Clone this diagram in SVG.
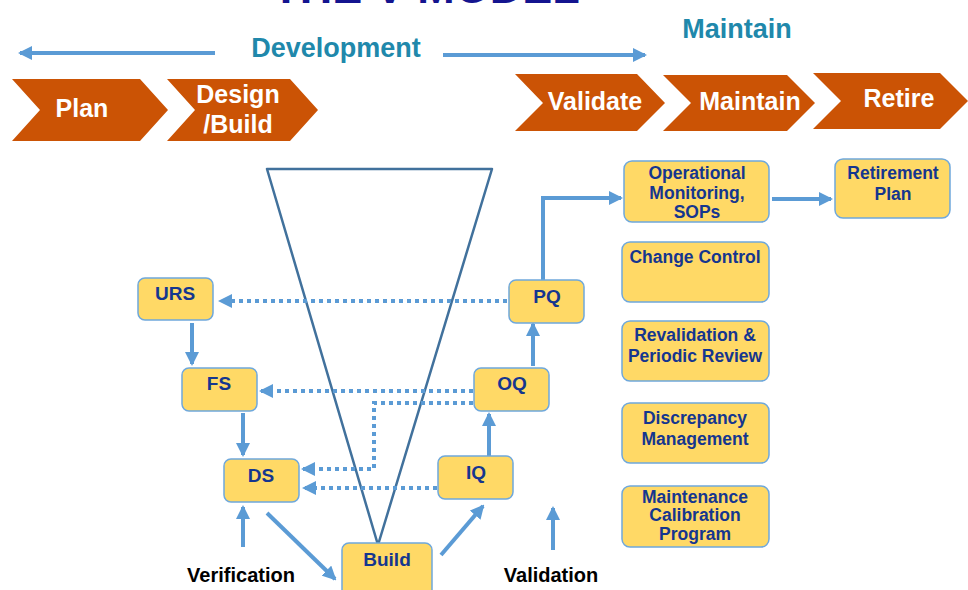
<svg xmlns="http://www.w3.org/2000/svg" width="968" height="590" viewBox="0 0 968 590">
<style>
.chev{fill:#cb5305}
.ct{font-family:"Liberation Sans",Arial,sans-serif;font-weight:bold;font-size:25px;fill:#ffffff;text-anchor:middle}
.hdr{font-family:"Liberation Sans",Arial,sans-serif;font-weight:bold;font-size:27px;fill:#2088ab;text-anchor:middle}
.box{fill:#ffd966;stroke:#6fa8dc;stroke-width:1.5}
.nt{font-family:"Liberation Sans",Arial,sans-serif;font-weight:bold;font-size:19px;fill:#15368f;text-anchor:middle}
.rt{font-family:"Liberation Sans",Arial,sans-serif;font-weight:bold;font-size:17.5px;fill:#15368f;text-anchor:middle}
.lb{font-family:"Liberation Sans",Arial,sans-serif;font-weight:bold;font-size:20px;fill:#000000;text-anchor:middle}
.solid{stroke:#5b9bd5;stroke-width:4;fill:none;marker-end:url(#ah)}
.dot{stroke:#5b9bd5;stroke-width:4;fill:none;stroke-dasharray:4 4;marker-end:url(#ah)}
</style>
<defs>
<marker id="ah" viewBox="0 0 14 14" refX="12" refY="7" markerWidth="14" markerHeight="14" markerUnits="userSpaceOnUse" orient="auto">
<path d="M0,0 L14,7 L0,14 z" fill="#5b9bd5"/>
</marker>
</defs>
<text x="426" y="3" font-family="Liberation Sans,Arial,sans-serif" font-weight="bold" font-size="45" fill="#14148f" text-anchor="middle">THE V MODEL</text>

<g id="header">
<text class="hdr" x="336" y="57">Development</text>
<text class="hdr" x="737" y="38">Maintain</text>
</g>

<g id="chevrons">
<g id="chev-plan"><path class="chev" d="M12,79 L140,79 L168,110 L140,141 L12,141 L40,110 Z"/><text class="ct" x="82" y="117">Plan</text></g>
<g id="chev-design"><path class="chev" d="M167,79 L290,79 L318,110 L290,141 L167,141 L195,110 Z"/><text class="ct" x="238" y="103">Design</text><text class="ct" x="238" y="133">/Build</text></g>
<g id="chev-validate"><path class="chev" d="M515,74 L637,74 L665,103 L637,131 L515,131 L543,103 Z"/><text class="ct" x="595" y="110">Validate</text></g>
<g id="chev-maintain"><path class="chev" d="M663,75 L787,75 L815,103 L787,131 L663,131 L691,103 Z"/><text class="ct" x="750" y="110">Maintain</text></g>
<g id="chev-retire"><path class="chev" d="M813,73 L940,73 L968,101 L940,129 L813,129 L841,101 Z"/><text class="ct" x="899" y="107">Retire</text></g>
</g>

<g id="vshape">
<path d="M267,169 L492,169 L378,545 Z" fill="none" stroke="#41719c" stroke-width="2.5" stroke-linejoin="round"/>
</g>

<g id="connectors">
<line class="solid" x1="215" y1="53" x2="20" y2="53"/>
<line class="solid" x1="443" y1="55" x2="645" y2="55"/>
<line class="solid" x1="192" y1="323" x2="192" y2="364"/>
<line class="solid" x1="243" y1="413" x2="243" y2="455"/>
<line class="solid" x1="489" y1="456" x2="489" y2="414"/>
<line class="solid" x1="533" y1="366" x2="533" y2="324"/>
<polyline class="solid" points="543,280 543,198 621,198"/>
<line class="solid" x1="772" y1="199" x2="831" y2="199"/>
<line class="dot" x1="507" y1="301" x2="220" y2="301"/>
<line class="dot" x1="473" y1="391" x2="261" y2="391"/>
<polyline class="dot" points="473,403 374,403 374,469 303,469"/>
<line class="dot" x1="437" y1="488" x2="304" y2="488"/>
<line class="solid" x1="243" y1="547" x2="243" y2="507"/>
<line class="solid" x1="267" y1="513" x2="335" y2="579"/>
<line class="solid" x1="441" y1="555" x2="483" y2="506"/>
<line class="solid" x1="553" y1="550" x2="553" y2="508"/>
</g>

<g id="node-urs"><rect class="box" x="138" y="278" width="75" height="42" rx="7"/><text class="nt" x="175" y="300">URS</text></g>
<g id="node-fs"><rect class="box" x="182" y="368" width="75" height="43" rx="7"/><text class="nt" x="219" y="390">FS</text></g>
<g id="node-ds"><rect class="box" x="224" y="459" width="75" height="43" rx="7"/><text class="nt" x="261" y="482">DS</text></g>
<g id="node-pq"><rect class="box" x="509" y="280" width="75" height="43" rx="7"/><text class="nt" x="547" y="303">PQ</text></g>
<g id="node-oq"><rect class="box" x="474" y="368" width="75" height="43" rx="7"/><text class="nt" x="512" y="390">OQ</text></g>
<g id="node-iq"><rect class="box" x="438" y="456" width="75" height="43" rx="7"/><text class="nt" x="476" y="479">IQ</text></g>
<g id="node-build"><rect class="box" x="342" y="543" width="90" height="60" rx="7"/><text class="nt" x="387" y="566">Build</text></g>

<g id="node-opmon"><rect class="box" x="624" y="161" width="145" height="61" rx="8"/><text class="rt" x="697" y="179" font-size="16">Operational</text><text class="rt" x="697" y="199" font-size="16">Monitoring,</text><text class="rt" x="697" y="218" font-size="16">SOPs</text></g>
<g id="node-retplan"><rect class="box" x="835" y="159" width="115" height="59" rx="8"/><text class="rt" x="893" y="179">Retirement</text><text class="rt" x="893" y="200">Plan</text></g>
<g id="node-change"><rect class="box" x="622" y="242" width="147" height="60" rx="8"/><text class="rt" x="695" y="263">Change Control</text></g>
<g id="node-reval"><rect class="box" x="622" y="321" width="147" height="60" rx="8"/><text class="rt" x="695" y="341">Revalidation &amp;</text><text class="rt" x="695" y="362">Periodic Review</text></g>
<g id="node-disc"><rect class="box" x="622" y="403" width="147" height="60" rx="8"/><text class="rt" x="695" y="424">Discrepancy</text><text class="rt" x="695" y="445">Management</text></g>
<g id="node-maint"><rect class="box" x="622" y="486" width="147" height="61" rx="8"/><text class="rt" x="695" y="503" font-size="14.5">Maintenance</text><text class="rt" x="695" y="521" font-size="14.5">Calibration</text><text class="rt" x="695" y="540" font-size="14.5">Program</text></g>

<g id="labels">
<text class="lb" x="241" y="582">Verification</text>
<text class="lb" x="551" y="582">Validation</text>
</g>
</svg>
